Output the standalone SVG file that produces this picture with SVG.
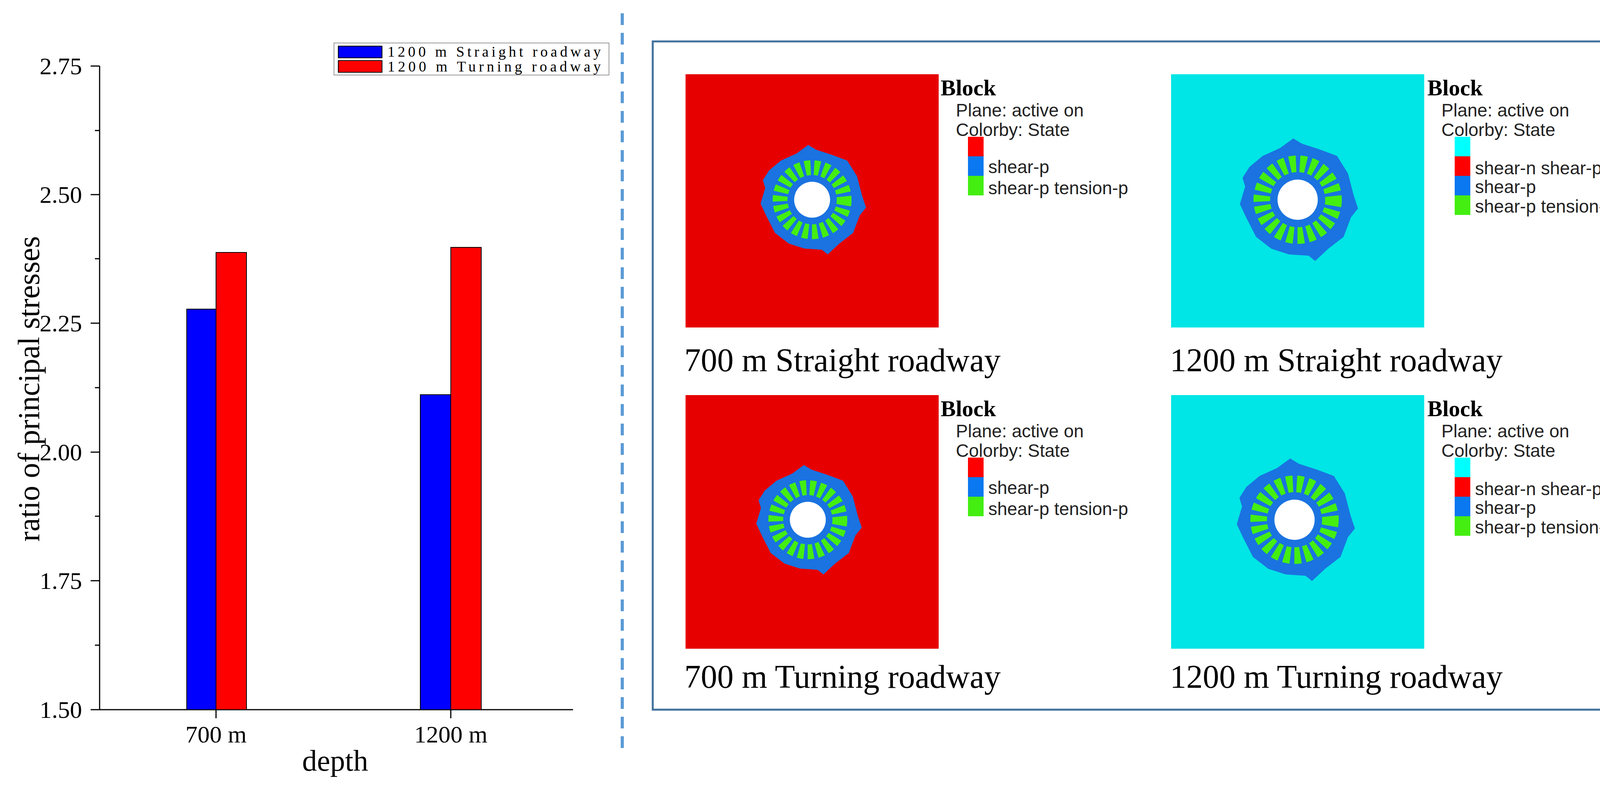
<svg xmlns="http://www.w3.org/2000/svg" width="4381" height="2019" viewBox="0 0 4381 2019">
<style>
.tnr{font-family:"Liberation Serif",serif;fill:#000}
.ar{font-family:"Liberation Sans",sans-serif;fill:#222;font-size:46px}
.tick{font-size:62px;text-anchor:end}
.ax{stroke:#000;stroke-width:3;fill:none}
.bar{stroke:#000;stroke-width:2}
.cap{font-size:84px}
.blk{font-size:58px;font-weight:bold}
</style>
<defs>
<g id="blob">
<path d="M-120,-30 L-126,-50 L-110,-75 L-80,-100 L-40,-118 L-10,-140 L10,-128 L50,-115 L90,-100 L115,-60 L128,-10 L138,20 L122,40 L105,85 L70,112 L40,140 L25,128 L-20,125 L-60,112 L-95,85 L-118,40 L-132,10 Z" fill="#1a73e0"/>
<circle r="82" fill="none" stroke="#44ee11" stroke-width="38" stroke-dasharray="14 9"/>
<circle r="46" fill="#fff"/>
</g>
</defs>
<g id="chart">
<g class="ax">
<line x1="255" y1="169" x2="255" y2="1816"/>
<line x1="255" y1="1816" x2="1467" y2="1816"/>
<path d="M232,169H255M232,498H255M232,827H255M232,1157H255M232,1486H255M232,1816H255M243,334H255M243,662H255M243,992H255M243,1321H255M243,1651H255M553,1816V1838M1154,1816V1838"/>
</g>
<g class="tnr tick">
<text x="210" y="190">2.75</text><text x="210" y="519">2.50</text><text x="210" y="848">2.25</text>
<text x="210" y="1178">2.00</text><text x="210" y="1507">1.75</text><text x="210" y="1837">1.50</text>
</g>
<rect class="bar" x="478" y="791" width="75" height="1025" fill="#0000ff"/>
<rect class="bar" x="553" y="646" width="78" height="1170" fill="#ff0000"/>
<rect class="bar" x="1076" y="1010" width="78" height="806" fill="#0000ff"/>
<rect class="bar" x="1154" y="633" width="78" height="1183" fill="#ff0000"/>
<text class="tnr" x="553" y="1900" font-size="62" text-anchor="middle">700 m</text>
<text class="tnr" x="1154" y="1900" font-size="62" text-anchor="middle">1200 m</text>
<text class="tnr" x="858" y="1972" font-size="76" text-anchor="middle">depth</text>
<text class="tnr" x="0" y="0" font-size="78" text-anchor="middle" transform="translate(100,995) rotate(-90)">ratio of principal stresses</text>
<g id="legend">
<rect x="855" y="110" width="704" height="82" fill="#fff" stroke="#999" stroke-width="2"/>
<rect class="bar" x="866" y="118" width="112" height="30" fill="#0000ff"/>
<rect class="bar" x="866" y="155" width="112" height="30" fill="#ff0000"/>
<text class="tnr" x="992" y="145" font-size="38" textLength="546">1200 m Straight roadway</text>
<text class="tnr" x="992" y="183" font-size="38" textLength="546">1200 m Turning roadway</text>
</g>
</g>
<line id="divider" x1="1593" y1="34" x2="1593" y2="1933" stroke="#5b9bd5" stroke-width="8" stroke-dasharray="30 20"/>
<rect id="frame" x="1671" y="106" width="2679" height="1710" fill="none" stroke="#41719c" stroke-width="5"/>
<g id="p1">
<rect x="1755" y="190" width="648" height="648" fill="#e60000"/>
<use href="#blob" x="2079" y="511"/>
<text class="tnr blk" x="2408" y="244">Block</text>
<text class="ar" x="2447" y="298">Plane: active on</text>
<text class="ar" x="2447" y="348">Colorby: State</text>
<rect x="2478" y="350" width="40" height="50" fill="#ff0000"/>
<rect x="2478" y="400" width="40" height="50" fill="#0a78f0"/>
<rect x="2478" y="450" width="40" height="50" fill="#44ee11"/>
<text class="ar" x="2530" y="443">shear-p</text>
<text class="ar" x="2530" y="497">shear-p tension-p</text>
<text class="tnr cap" x="1752" y="950">700 m Straight roadway</text>
</g>
<g id="p2">
<rect x="2998" y="190" width="648" height="648" fill="#00e5e5"/>
<use href="#blob" transform="translate(3322,511) scale(1.12)"/>
<text class="tnr blk" x="3654" y="244">Block</text>
<text class="ar" x="3690" y="298">Plane: active on</text>
<text class="ar" x="3690" y="348">Colorby: State</text>
<rect x="3724" y="350" width="40" height="50" fill="#00ffff"/>
<rect x="3724" y="400" width="40" height="50" fill="#ff0000"/>
<rect x="3724" y="450" width="40" height="50" fill="#0a78f0"/>
<rect x="3724" y="500" width="40" height="50" fill="#44ee11"/>
<text class="ar" x="3776" y="446">shear-n shear-p tension-p</text>
<text class="ar" x="3776" y="494">shear-p</text>
<text class="ar" x="3776" y="544">shear-p tension-p</text>
<text class="tnr cap" x="2995" y="950">1200 m Straight roadway</text>
</g>
<g id="p3">
<rect x="1755" y="1011" width="648" height="649" fill="#e60000"/>
<use href="#blob" x="2068" y="1330"/>
<text class="tnr blk" x="2408" y="1065">Block</text>
<text class="ar" x="2447" y="1119">Plane: active on</text>
<text class="ar" x="2447" y="1169">Colorby: State</text>
<rect x="2478" y="1171" width="40" height="50" fill="#ff0000"/>
<rect x="2478" y="1221" width="40" height="50" fill="#0a78f0"/>
<rect x="2478" y="1271" width="40" height="50" fill="#44ee11"/>
<text class="ar" x="2530" y="1264">shear-p</text>
<text class="ar" x="2530" y="1318">shear-p tension-p</text>
<text class="tnr cap" x="1752" y="1760">700 m Turning roadway</text>
</g>
<g id="p4">
<rect x="2998" y="1011" width="648" height="649" fill="#00e5e5"/>
<use href="#blob" transform="translate(3314,1330) scale(1.12)"/>
<text class="tnr blk" x="3654" y="1065">Block</text>
<text class="ar" x="3690" y="1119">Plane: active on</text>
<text class="ar" x="3690" y="1169">Colorby: State</text>
<rect x="3724" y="1171" width="40" height="50" fill="#00ffff"/>
<rect x="3724" y="1221" width="40" height="50" fill="#ff0000"/>
<rect x="3724" y="1271" width="40" height="50" fill="#0a78f0"/>
<rect x="3724" y="1321" width="40" height="50" fill="#44ee11"/>
<text class="ar" x="3776" y="1267">shear-n shear-p tension-p</text>
<text class="ar" x="3776" y="1315">shear-p</text>
<text class="ar" x="3776" y="1365">shear-p tension-p</text>
<text class="tnr cap" x="2995" y="1760">1200 m Turning roadway</text>
</g>
</svg>
